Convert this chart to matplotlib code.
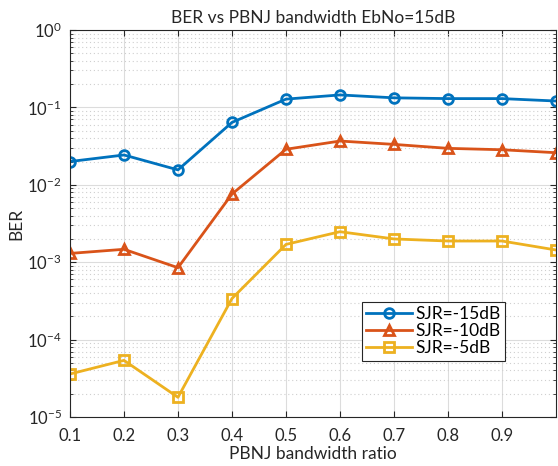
import numpy as np
import matplotlib
matplotlib.use("Agg")
import matplotlib.pyplot as plt
from matplotlib.ticker import LogLocator, NullFormatter

# data
ratio = [0.1, 0.2, 0.3, 0.4, 0.5, 0.6, 0.7, 0.8, 0.9, 1.0]
ber_15 = [0.020, 0.0243, 0.0156, 0.064, 0.128, 0.145, 0.133, 0.130, 0.130, 0.121]
ber_10 = [0.0013, 0.00147, 0.00085, 0.0076, 0.0288, 0.0368, 0.0333, 0.0296, 0.0284, 0.026]
ber_5 = [3.6e-5, 5.4e-5, 1.8e-5, 3.4e-4, 0.0017, 0.00248, 0.0020, 0.00188, 0.00188, 0.00144]
labels = ["SJR=-15dB", "SJR=-10dB", "SJR=-5dB"]

plt.rcParams['font.family'] = ['Lato', 'DejaVu Sans']
plt.rcParams['mathtext.fontset'] = 'custom'
plt.rcParams['mathtext.rm'] = 'Lato'
plt.rcParams['mathtext.it'] = 'Lato:italic'

fig = plt.figure(figsize=(5.58, 4.66), dpi=100)
ax = fig.add_axes([0.1254, 0.105, 0.8710, 0.8306])

tc = '#262626'
ax.plot(ratio, ber_15, '-o', color='#0072BD', lw=2, ms=7, mfc='none', mew=2, label=labels[0])
ax.plot(ratio, ber_10, '-^', color='#D95319', lw=2, ms=7, mfc='none', mew=2, label=labels[1])
ax.plot(ratio, ber_5, '-s', color='#EDB120', lw=2, ms=7, mfc='none', mew=2, label=labels[2])

ax.set_yscale('log')
ax.set_xlim(0.1, 1.0)
ax.set_ylim(1e-5, 1)
ax.set_xticks([0.1, 0.2, 0.3, 0.4, 0.5, 0.6, 0.7, 0.8, 0.9])
ax.set_xticklabels(['0.1', '0.2', '0.3', '0.4', '0.5', '0.6', '0.7', '0.8', '0.9'])
ax.yaxis.set_major_locator(LogLocator(base=10, numticks=10))
ax.yaxis.set_minor_locator(LogLocator(base=10, subs=np.arange(2, 10), numticks=20))
ax.yaxis.set_minor_formatter(NullFormatter())

ax.grid(True, which='major', color='#dcdcdc', lw=0.8)
ax.grid(True, which='minor', axis='y', color='#cfcfcf', lw=0.8, ls=(0, (1, 2.5)))
ax.set_axisbelow(True)

ax.tick_params(which='both', direction='in', top=True, right=True, colors=tc,
               labelcolor=tc, labelsize=12)
ax.tick_params(which='major', length=4)
ax.tick_params(which='minor', length=2)
ax.tick_params(axis='x', pad=8)
ax.tick_params(axis='y', pad=6)
for s in ax.spines.values():
    s.set_color(tc)
    s.set_linewidth(0.8)

ax.set_title("BER vs PBNJ bandwidth EbNo=15dB", fontsize=12.5, color=tc, pad=5)
ax.set_xlabel("PBNJ bandwidth ratio", fontsize=12.5, color=tc, labelpad=1)
ax.set_ylabel("BER", fontsize=12.5, color=tc, labelpad=2)

leg = ax.legend(loc='upper left', bbox_to_anchor=(0.601, 0.297), fontsize=12.5,
                fancybox=False, framealpha=1, edgecolor=tc, borderpad=0.25,
                labelspacing=0.05, handlelength=2.65, handletextpad=0.2,
                borderaxespad=0)
leg.get_frame().set_linewidth(0.8)

fig.savefig("out.png", dpi=100)
